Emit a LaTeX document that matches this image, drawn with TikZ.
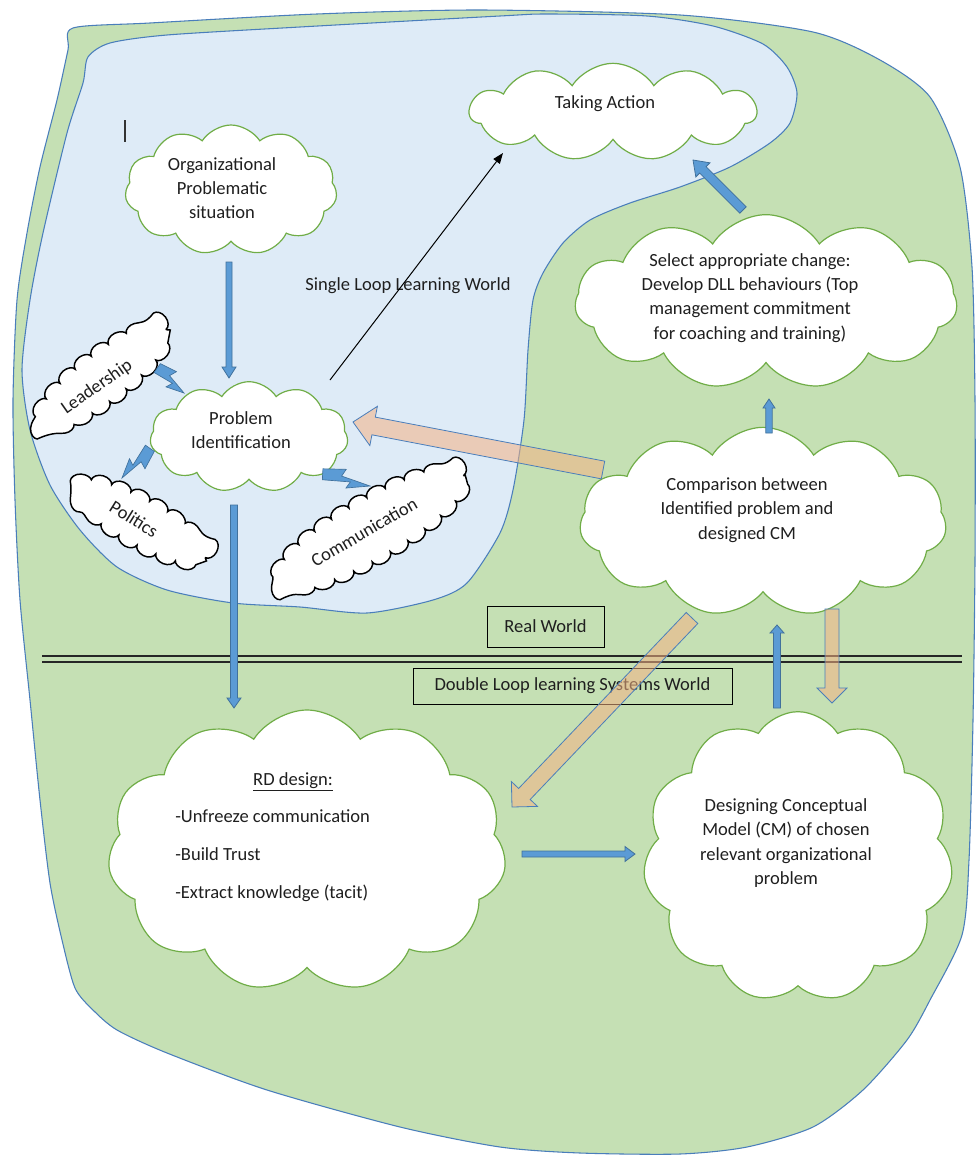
\documentclass[tikz,border=0pt]{standalone}
\usepackage{fontspec}
\setmainfont{Carlito}
\usetikzlibrary{shapes.symbols,shapes.geometric,arrows.meta,calc,decorations.pathmorphing}

\definecolor{landgreen}{HTML}{C5E0B4}
\definecolor{loopblue}{HTML}{DEEBF7}
\definecolor{shoreblue}{HTML}{4A7EBB}
\definecolor{puffgreen}{HTML}{70AD47}
\definecolor{flowblue}{HTML}{5B9BD5}
\definecolor{flowedge}{HTML}{41719C}
\definecolor{feedback}{HTML}{F4B183}

\tikzset{
  greencloud/.style={cloud, cloud puffs=11, cloud puff arc=115, cloud ignores aspect,
    draw=puffgreen, line width=0.9pt, fill=white, inner sep=0pt},
  blackcloud/.style={ellipse, draw=black, line width=1.1pt, fill=white, inner sep=0pt,
    decorate, decoration={bumps, mirror, segment length=31pt, amplitude=5.5pt}},
  lbl/.style={font=\fontsize{13.9}{18.2}\selectfont, align=center, inner sep=0pt, text=black!88},
  worldbox/.style={draw=black, line width=0.75pt, font=\fontsize{13.9}{18.2}\selectfont,
    inner sep=0pt, text=black!88},
  % block arrow: shaft half-width, head half-width, head length
  blockarrow/.style n args={3}{to path={
    ($(\tikztostart)!#1!90:(\tikztotarget)$)
    -- ($(\tikztotarget)!#3!(\tikztostart)!#1!90:(\tikztotarget)$)
    -- ($(\tikztotarget)!#3!(\tikztostart)!#2!90:(\tikztotarget)$)
    -- (\tikztotarget)
    -- ($(\tikztotarget)!#3!(\tikztostart)!#2!-90:(\tikztotarget)$)
    -- ($(\tikztotarget)!#3!(\tikztostart)!#1!-90:(\tikztotarget)$)
    -- ($(\tikztostart)!#1!-90:(\tikztotarget)$) -- cycle}},
  flowarrow/.style={fill=flowblue, draw=flowedge, line width=0.6pt},
  feedbackarrow/.style={fill=feedback, fill opacity=0.55, draw=shoreblue, line width=0.6pt},
  % small lightning bolt pointing from start to target
  bolt/.style={fill=flowblue, draw=flowedge, line width=0.5pt, to path={
    ($(\tikztostart)!2.5pt!90:(\tikztotarget)$)
    -- ($(\tikztostart)!0.45!(\tikztotarget)!7pt!90:(\tikztotarget)$)
    -- ($(\tikztostart)!0.40!(\tikztotarget)!1.2pt!90:(\tikztotarget)$)
    -- (\tikztotarget)
    -- ($(\tikztostart)!0.55!(\tikztotarget)!6.5pt!-90:(\tikztotarget)$)
    -- ($(\tikztostart)!0.60!(\tikztotarget)!1.2pt!-90:(\tikztotarget)$)
    -- ($(\tikztostart)!0.05!(\tikztotarget)!5.5pt!-90:(\tikztotarget)$) -- cycle}}
}

\begin{document}
\begin{tikzpicture}[x=0.75pt,y=-0.75pt]
\useasboundingbox (0,0) rectangle (975,1156);
\fill[white] (0,0) rectangle (975,1156);

% the whole land of double loop learning
\draw[shoreblue, line width=0.8pt, fill=landgreen] plot[smooth cycle, tension=0.45] coordinates {
  (73,28) (150,23) (317,14) (480,10) (680,15) (813,32) (880,60) (930,97) (960,167)
  (972,267) (975,400) (975,560) (973,720) (969,860) (962,935) (930,1000) (907,1040)
  (863,1090) (813,1127) (747,1147) (680,1154) (580,1153) (500,1147) (400,1127)
  (267,1090) (167,1053) (117,1030) (93,1010) (75,988) (62,940) (50,883) (40,800)
  (30,700) (20,600) (15,500) (13,400) (17,300) (27,233) (40,167) (57,100) (68,50)};

% the single loop learning lake
\draw[shoreblue, line width=0.8pt, fill=loopblue] plot[smooth cycle, tension=0.45] coordinates {
  (88,57) (110,43) (167,35) (300,27) (500,16) (547,14) (647,16) (713,26) (763,44)
  (787,67) (797,93) (790,123) (770,143) (730,167) (680,187) (630,203) (590,220)
  (563,243) (543,273) (533,300) (528,350) (524,420) (513,490) (500,533) (467,583)
  (433,600) (367,613) (300,607) (233,603) (167,590) (117,567) (80,530) (50,485)
  (30,430) (22,370) (30,300) (43,233) (67,133) (83,83)};

% text cursor mark
\draw[line width=0.8pt, black!80] (125,120) -- (125,142);

% border between the real world and the systems world
\draw[line width=0.8pt, black!85] (42,656) -- (962,656);
\draw[line width=0.8pt, black!85] (42,662) -- (962,662);

\node[worldbox, minimum width=87.75pt, minimum height=30.75pt] (real) at (545.5,626.5) {Real World};
\node[worldbox, minimum width=239.25pt, minimum height=27pt] (dll) at (572.5,686) {Double Loop learning Systems World};

% process clouds
\node[greencloud, minimum width=215pt, minimum height=73pt] (act) at (613,112) {};
\node[greencloud, minimum width=159pt, minimum height=97.5pt] (org) at (231,190) {};
\node[greencloud, minimum width=148.5pt, minimum height=83pt] (prob) at (249,437) {};
\node[greencloud, minimum width=286.5pt, minimum height=131pt] (sel) at (766,302) {};
\node[greencloud, minimum width=275pt, minimum height=142pt] (cmp) at (763,522) {};
\node[greencloud, minimum width=299pt, minimum height=211.5pt] (rd) at (307,851) {};
\node[greencloud, minimum width=232.5pt, minimum height=218pt] (cm) at (798,857) {};

% influence clouds
\node[blackcloud, rotate=37, minimum width=118pt, minimum height=34pt] (lead) at (103,377) {};
\node[blackcloud, rotate=-29, minimum width=110pt, minimum height=32pt] (pol) at (141,522) {};
\node[blackcloud, rotate=30, minimum width=160pt, minimum height=43pt] (com) at (371,529) {};

% cloud texts
\node[lbl] (actt) at (605,104) {Taking Action};
\node[lbl] (orgt) at (222,188) {Organizational\\Problematic\\situation};
\node[lbl] (probt) at (241,430) {Problem\\Identification};
\node[lbl] (selt) at (750,298) {Select appropriate change:\\Develop DLL behaviours (Top\\management commitment\\for coaching and training)};
\node[lbl] (cmpt) at (747,510) {Comparison between\\Identified problem and\\designed CM};
\node[lbl] (cmt) at (786,843) {Designing Conceptual\\Model (CM) of chosen\\relevant organizational\\problem};
\node[lbl, anchor=base] (rdt) at (293,785.5) {\underline{RD design:}};
\node[lbl, anchor=base west] (rd1) at (175,822.5) {-Unfreeze communication};
\node[lbl, anchor=base west] (rd2) at (175,860.5) {-Build Trust};
\node[lbl, anchor=base west] (rd3) at (175,898.5) {-Extract knowledge (tacit)};
\node[lbl, rotate=35] (leadt) at (97,387) {Leadership};
\node[lbl, rotate=-32] (polt) at (134,519) {Politics};
\node[lbl, rotate=30] (comt) at (364,532) {Communication};
\node[lbl] (slw) at (408,286) {Single Loop Learning World};

% connector ends
\coordinate (orgout) at ($(org.center)+(-2,72)$);
\coordinate (probin) at ($(prob.center)+(-20,-59)$);
\coordinate (probout) at ($(prob.center)+(-15,68)$);
\coordinate (rdin) at ($(rd.center)+(-73,-143)$);
\coordinate (rdout) at ($(rd.center)+(215,3)$);
\coordinate (cmin) at ($(cm.center)+(-163,-3)$);
\coordinate (cmpup) at ($(cmp.center)+(6,-89)$);
\coordinate (selin) at ($(sel.center)+(3,97)$);
\coordinate (cmout) at ($(cm.center)+(-21,-149)$);
\coordinate (cmpin) at ($(cmp.center)+(14,103)$);
\coordinate (selout) at ($(sel.center)+(-23,-92)$);
\coordinate (actin) at ($(act.center)+(80,48)$);
\coordinate (cmpleft) at ($(cmp.center)+(-160,-52)$);
\coordinate (probright) at ($(prob.center)+(104,-15)$);
\coordinate (cmpbl) at ($(cmp.center)+(-71,96)$);
\coordinate (rdright) at ($(rd.center)+(205,-44)$);
\coordinate (cmpbr) at ($(cmp.center)+(69,87)$);
\coordinate (cmtop) at ($(cm.center)+(34,-154)$);
\coordinate (probne) at ($(prob.center)+(81,-57)$);
\coordinate (actsw) at ($(act.center)+(-110,41)$);
\coordinate (leadzap) at ($(lead.center)+(55,-11)$);
\coordinate (probzapa) at ($(prob.center)+(-65,-44)$);
\coordinate (probzapb) at ($(prob.center)+(-97,12)$);
\coordinate (polzap) at ($(pol.center)+(-19,-44)$);
\coordinate (probzapc) at ($(prob.center)+(73,35)$);
\coordinate (comzap) at ($(com.center)+(-1,-43)$);

% forward flow
\draw[flowarrow, blockarrow={2.25pt}{5.25pt}{8.25pt}] (orgout) to (probin);
\draw[flowarrow, blockarrow={2.6pt}{5.25pt}{7.5pt}] (probout) to (rdin);
\draw[flowarrow, blockarrow={2.25pt}{5.6pt}{7.5pt}] (rdout) to (cmin);
\draw[flowarrow, blockarrow={2.4pt}{4.5pt}{6.75pt}] (cmpup) to (selin);
\draw[flowarrow, blockarrow={2.6pt}{5.25pt}{6pt}] (cmout) to (cmpin);
\draw[flowarrow, blockarrow={3.4pt}{7.5pt}{10.5pt}] (selout) to (actin);

% feedback flow
\draw[feedbackarrow, blockarrow={6.75pt}{15pt}{15.75pt}] (cmpleft) to (probright);
\draw[feedbackarrow, blockarrow={6pt}{13.5pt}{13.5pt}] (cmpbl) to (rdright);
\draw[feedbackarrow, blockarrow={5.25pt}{11.25pt}{11.25pt}] (cmpbr) to (cmtop);

% single loop shortcut
\draw[line width=0.75pt, -{Triangle[length=8pt,width=6pt]}] (probne) -- (actsw);

% influences
\draw[bolt] (leadzap) to (probzapa);
\draw[bolt] (probzapb) to (polzap);
\draw[bolt] (probzapc) to (comzap);
\end{tikzpicture}
\end{document}
